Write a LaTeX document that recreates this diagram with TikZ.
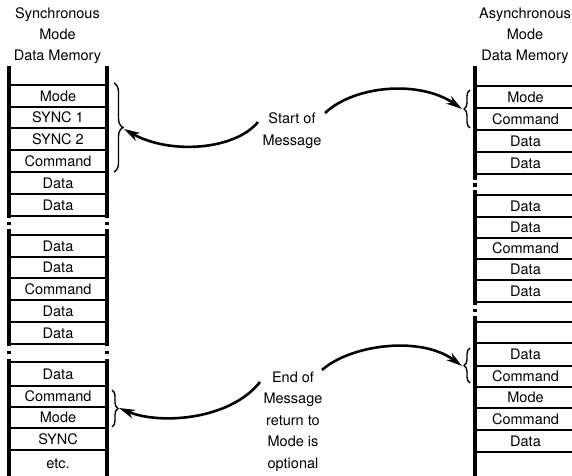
\documentclass[tikz,border=0pt]{standalone}
\usepackage{fontspec}
\setmainfont{TeX Gyre Heros}
\usetikzlibrary{arrows.meta,decorations.pathreplacing}
\begin{document}
\begin{tikzpicture}[x=1bp,y=-1bp,
  rail/.style={line width=3.5bp},
  rowline/.style={line width=1.8bp},
  lbl/.style={font=\fontsize{14.5bp}{17bp}\selectfont, inner sep=0pt, text height=10.4bp, text depth=0pt, anchor=center},
  curly/.style={decorate, decoration={brace,amplitude=#1}, line width=1.4bp},
  msgarrow/.style={line width=2.6bp, -{Stealth[length=16bp,width=9bp,inset=5bp]}},
  gapdot/.style={fill, inner sep=0pt, minimum size=3.5bp}
]
\useasboundingbox (0,0) rectangle (572,476);
\clip (0,0) rectangle (572,476);

% ---------- headers ----------
\node[lbl] (hl1) at (57.5,13) {Synchronous};
\node[lbl] (hl2) at (57.5,34) {Mode};
\node[lbl] (hl3) at (57.5,55) {Data Memory};
\node[lbl] (hr1) at (525,13) {Asynchronous};
\node[lbl] (hr2) at (525,34) {Mode};
\node[lbl] (hr3) at (525,55) {Data Memory};

% ---------- left column ----------
\foreach \x in {9,107}{
  \draw[rail] (\x,66) -- (\x,218);
  \draw[rail] (\x,229) -- (\x,346);
  \draw[rail] (\x,359) -- (\x,476);
  \node[gapdot] at (\x,223.5) {};
  \node[gapdot] at (\x,352.5) {};
}
\foreach \y in {85,107,128,150,172,194,216,235,257,278,300,322,344,362,386,407,428,450}{
  \draw[rowline] (9,\y) -- (107,\y);
}
\node[lbl] (l1) at (58,96) {Mode};
\node[lbl] (l2) at (58,117.5) {SYNC 1};
\node[lbl] (l3) at (58,139) {SYNC 2};
\node[lbl] (l4) at (58,161) {Command};
\node[lbl] (l5) at (58,183) {Data};
\node[lbl] (l6) at (58,205) {Data};
\node[lbl] (l7) at (58,246) {Data};
\node[lbl] (l8) at (58,267.5) {Data};
\node[lbl] (l9) at (58,289) {Command};
\node[lbl] (l10) at (58,311) {Data};
\node[lbl] (l11) at (58,333) {Data};
\node[lbl] (l12) at (58,374) {Data};
\node[lbl] (l13) at (58,396.5) {Command};
\node[lbl] (l14) at (58,417.5) {Mode};
\node[lbl] (l15) at (58,439) {SYNC};
\node[lbl] (l16) at (58,463) {etc.};

% ---------- right column ----------
\foreach \x in {475,576}{
  \draw[rail] (\x,66) -- (\x,180);
  \draw[rail] (\x,190) -- (\x,305);
  \draw[rail] (\x,316) -- (\x,476);
  \node[gapdot] at (\x,185) {};
  \node[gapdot] at (\x,310.5) {};
}
\foreach \y in {86,108,130,152,174,195,217,238,259,280,302,322,343,366,387,408,430,452}{
  \draw[rowline] (475,\y) -- (576,\y);
}
\node[lbl] (r1) at (525.5,97) {Mode};
\node[lbl] (r2) at (525.5,119) {Command};
\node[lbl] (r3) at (525.5,141) {Data};
\node[lbl] (r4) at (525.5,163) {Data};
\node[lbl] (r5) at (525.5,206) {Data};
\node[lbl] (r6) at (525.5,227.5) {Data};
\node[lbl] (r7) at (525.5,248.5) {Command};
\node[lbl] (r8) at (525.5,269.5) {Data};
\node[lbl] (r9) at (525.5,291) {Data};
\node[lbl] (r10) at (525.5,354.5) {Data};
\node[lbl] (r11) at (525.5,376.5) {Command};
\node[lbl] (r12) at (525.5,397.5) {Mode};
\node[lbl] (r13) at (525.5,419) {Command};
\node[lbl] (r14) at (525.5,441) {Data};

% ---------- braces ----------
\draw[curly=9bp] (114,83) -- (114,172);
\draw[curly=6bp] (470,128) -- (470,90);
\draw[curly=6bp] (112,390) -- (112,427);
\draw[curly=6bp] (470,383) -- (470,348);
\coordinate (bLT) at (124,129);
\coordinate (bRT) at (462,109);
\coordinate (bLB) at (119,408);
\coordinate (bRB) at (462,366);

% ---------- middle texts ----------
\node[lbl] (s1) at (292,118.5) {Start of};
\node[lbl] (s2) at (292,140.5) {Message};
\node[lbl] (e1) at (293,377) {End of};
\node[lbl] (e2) at (293,398.5) {Message};
\node[lbl] (e3) at (293,420) {return to};
\node[lbl] (e4) at (293,441.5) {Mode is};
\node[lbl] (e5) at (293,463) {optional};
\coordinate (sL) at (258,122);
\coordinate (sR) at (325,113);
\coordinate (eL) at (260,382);
\coordinate (eR) at (322,370);

% ---------- arrows ----------
\draw[msgarrow] (sL) .. controls (235,150) and (170,155) .. (bLT);
\draw[msgarrow] (sR) .. controls (355,85) and (420,80) .. (bRT);
\draw[msgarrow] (eL) .. controls (230,420) and (160,425) .. (bLB);
\draw[msgarrow] (eR) .. controls (350,345) and (420,335) .. (bRB);
\end{tikzpicture}
\end{document}
